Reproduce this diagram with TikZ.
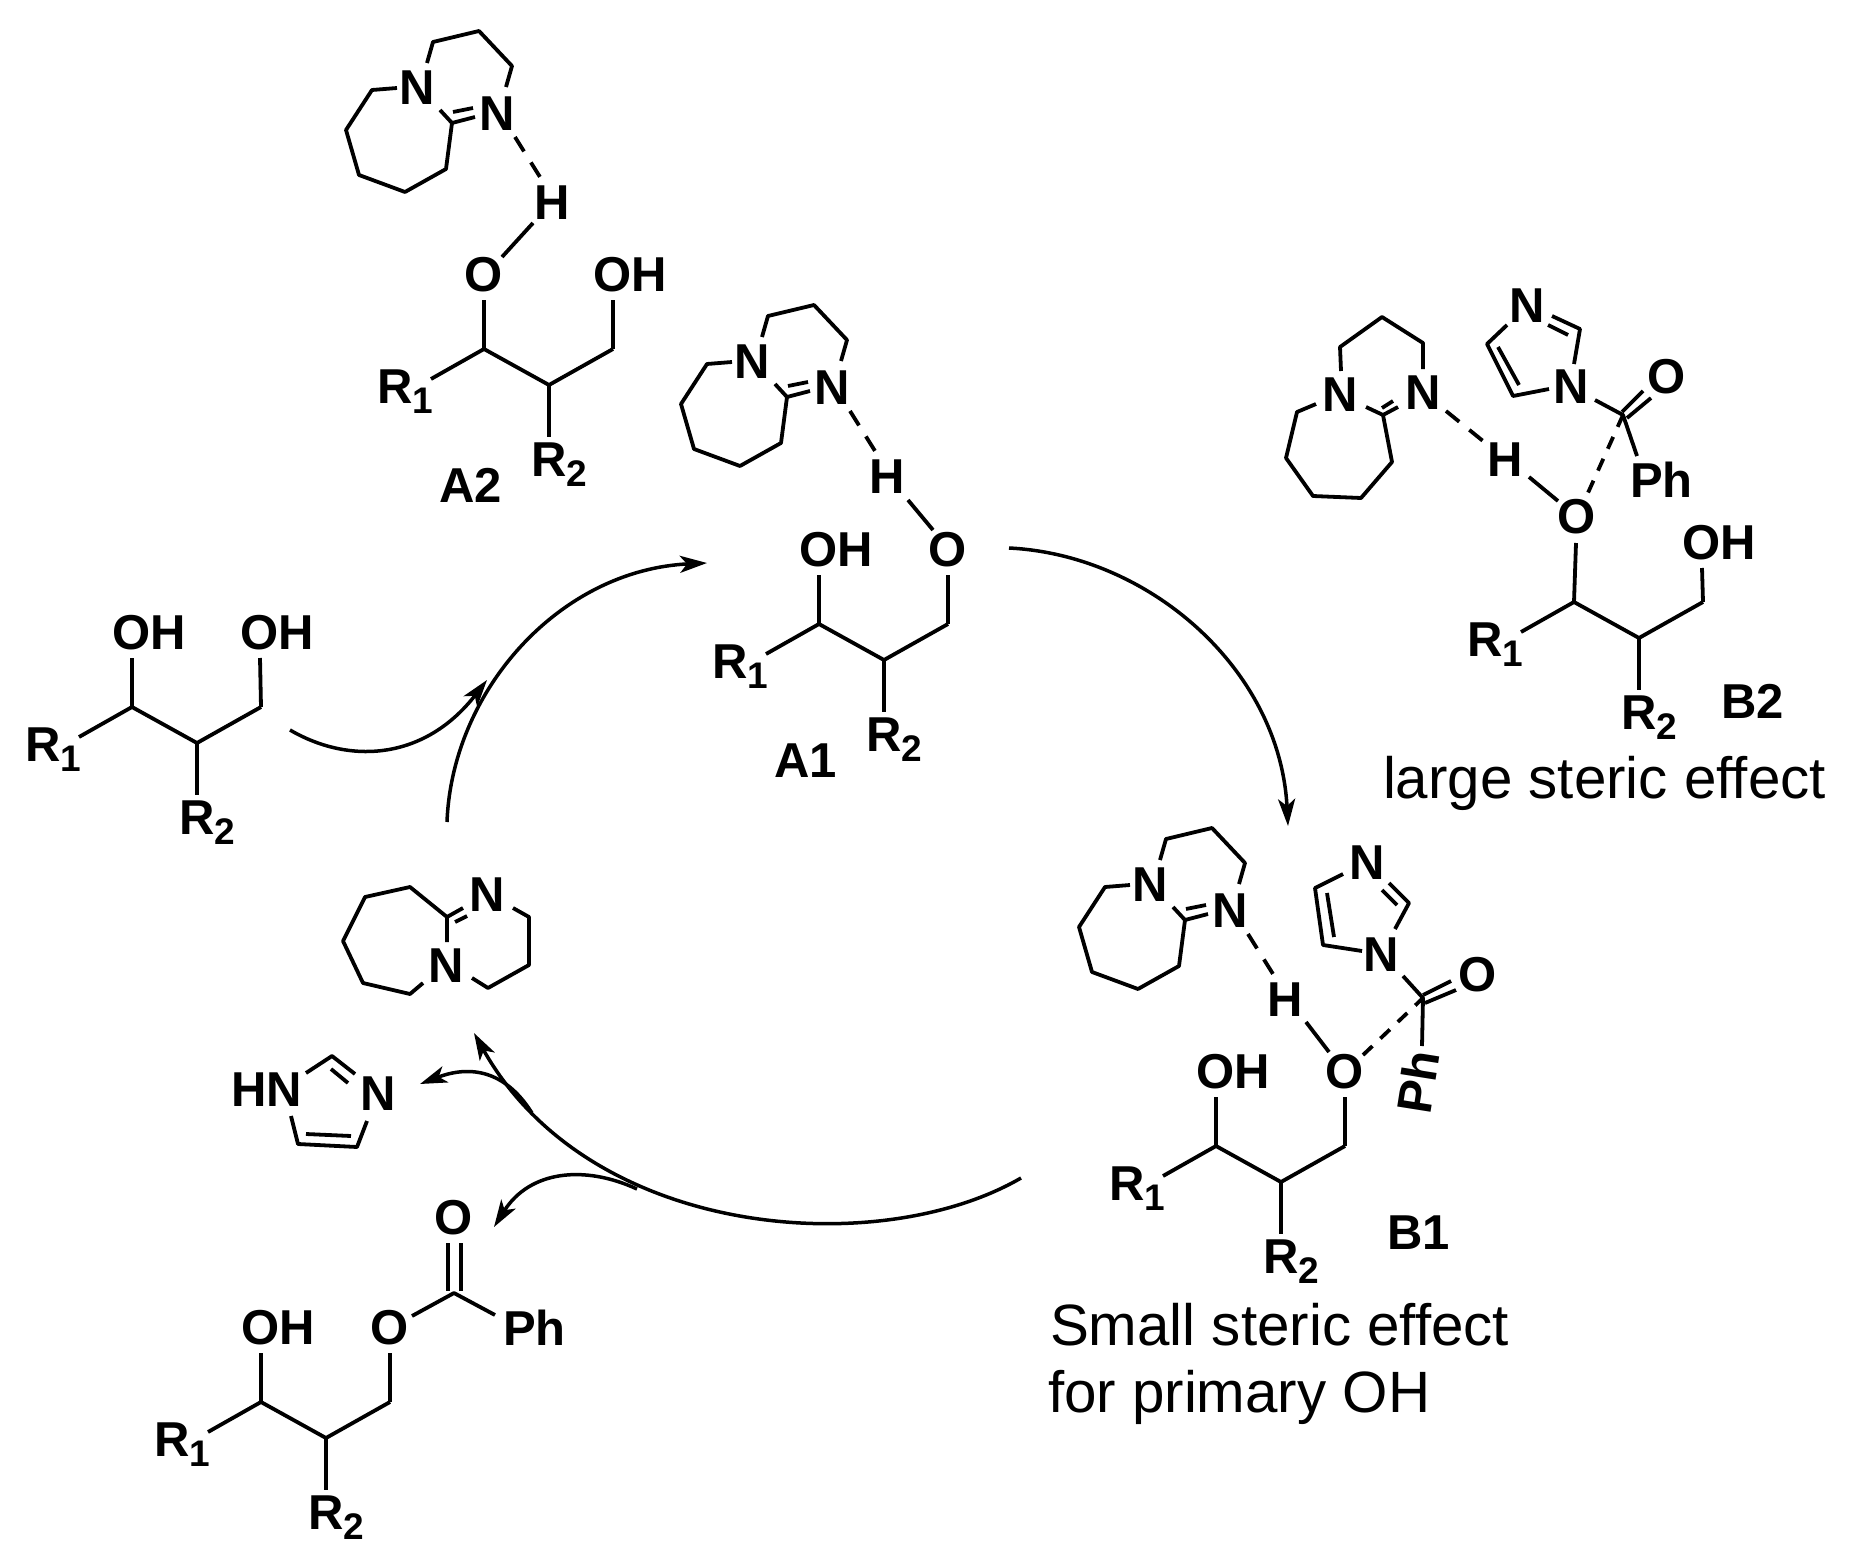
\documentclass[tikz,border=0pt]{standalone}
\usepackage{fontspec}
\setmainfont{Liberation Sans}
\usetikzlibrary{arrows.meta}
\tikzset{
  bond/.style={line width=3.8pt,line join=round,line cap=butt,black},
  hbond/.style={bond,dash pattern=on 17pt off 13pt},
  cobond/.style={bond,dash pattern=on 13pt off 11pt},
  atom/.style={font=\fontsize{49}{49}\selectfont\bfseries,inner sep=0pt,outer sep=0pt,black},
  tag/.style={font=\fontsize{49}{49}\selectfont\bfseries,inner sep=0pt,outer sep=0pt,anchor=base west,black},
  note/.style={font=\fontsize{58.3}{58.3}\selectfont,inner sep=0pt,outer sep=0pt,anchor=base west,black},
  curve/.style={line width=3.5pt,black,-{Stealth[length=27pt,width=17pt,inset=7pt]}},
}
\newcommand{\rsub}[2]{#1\raisebox{-10pt}{\fontsize{37}{37}\selectfont #2}}
% diol skeleton: name, x and y of first carbon
\newcommand{\diol}[3]{%
  \begin{scope}[shift={(#2,#3)}]
    \coordinate (#1c1) at (0,0);
    \coordinate (#1c2) at (65,36);
    \coordinate (#1c3) at (129,0);
    \coordinate (#1r1) at (-53,30);
    \coordinate (#1r2) at (65,88);
    \draw[bond] (#1r1)--(#1c1)--(#1c2)--(#1c3);
    \draw[bond] (#1c2)--(#1r2);
    \node[atom,anchor=base west] (#1R1) at (-107,54) {\rsub{R}{1}};
    \node[atom,anchor=base west] (#1R2) at (47,127) {\rsub{R}{2}};
  \end{scope}}
% OH group above a carbon: name, carbon, x, y
\newcommand{\ohup}[4]{%
  \node[atom,anchor=west] (#1) at (#3-20,#4-74) {OH};
  \coordinate (#1e) at (#3,#4-49);
  \draw[bond] (#1e)--(#2);}
% O above a carbon
\newcommand{\oup}[4]{%
  \node[atom] (#1) at (#3,#4-74) {O};
  \coordinate (#1e) at (#3,#4-49);
  \draw[bond] (#1e)--(#2);}
% DBU with H bond: name, shift x, shift y
\newcommand{\dbuH}[3]{%
  \begin{scope}[shift={(#2,#3)}]
    \node[atom] (#1n1) at (417,88) {N};
    \node[atom] (#1n2) at (497,114) {N};
    \node[atom] (#1h) at (552,203) {H};
    \draw[bond] (427,63)--(433,42)--(479,31)--(512,66)--(506,87);
    \draw[bond] (397,88)--(372,90)--(346,130)--(359,175)--(405,192)--(446,169)--(452,123)--(440,110);
    \draw[bond] (452,123)--(475,117);
    \draw[bond] (453,112)--(473,108);
    \draw[hbond] (515,137)--(540,177);
  \end{scope}}
\begin{document}
\begin{tikzpicture}[x=1pt,y=-1pt]
\useasboundingbox (0,0) rectangle (1857,1562);
\fill[white] (0,0) rectangle (1857,1562);

% ---- A2
\dbuH{aa}{0}{0}
\diol{a}{484}{349}
\oup{ao}{ac1}{484}{349}
\ohup{aoh}{ac3}{613}{349}
\coordinate (aoa) at (502,257);
\coordinate (aob) at (533,223);
\draw[bond] (aoa)--(aob);
\node[tag] (labA2) at (439,502) {A2};

% ---- A1
\dbuH{bb}{335}{274}
\diol{b}{819}{624}
\ohup{boh}{bc1}{819}{624}
\oup{bo}{bc3}{948}{624}
\coordinate (boa) at (908,500);
\coordinate (bob) at (933,530);
\draw[bond] (boa)--(bob);
\node[tag] (labA1) at (774,777) {A1};

% ---- B1
\dbuH{cc}{733}{797}
\diol{c}{1216}{1146}
\ohup{coh}{cc1}{1216}{1146}
\oup{co}{cc3}{1345}{1146}
\coordinate (coa) at (1306,1022);
\coordinate (cob) at (1329,1052);
\draw[bond] (coa)--(cob);
\node[atom] (cin1) at (1367,863) {N};
\node[atom] (cin2) at (1381,955) {N};
\draw[bond] (1343,874)--(1315,888)--(1323,945)--(1362,951);
\draw[bond] (1327,893)--(1334,937);
\draw[bond] (1389,883)--(1409,903)--(1395,929);
\draw[bond] (1382,890)--(1397,905);
\coordinate (ccc) at (1423,998);
\node[atom] (ccO) at (1478,975) {O};
\node[atom,rotate=81] (cPh) at (1418,1082) {Ph};
\draw[bond] (1403,976)--(ccc)--(1422,1046);
\draw[bond] (1423,995)--(1451,981);
\draw[bond] (1425,1003)--(1456,990);
\draw[cobond] (1363,1055)--(ccc);
\node[tag] (labB1) at (1387,1249) {B1};
\node[note] (small) at (1050,1345) {Small steric effect};
\node[note] (forp) at (1048,1412) {for primary OH};

% ---- B2
\node[atom] (dn1) at (1340,395) {N};
\node[atom] (dn2) at (1423,393) {N};
\node[atom] (dh) at (1505,460) {H};
\draw[bond] (1341,371)--(1340,347)--(1382,317)--(1423,343)--(1423,369);
\draw[bond] (1316,404)--(1297,412)--(1286,458)--(1313,496)--(1361,498)--(1392,462)--(1383,415)--(1366,407);
\draw[bond] (1383,415)--(1398,407);
\draw[bond] (1382,408)--(1393,401);
\draw[hbond] (1446,411)--(1483,441);
\diol{d}{1574}{602}
\node[atom] (do) at (1577,517) {O};
\coordinate (doe) at (1576,543);
\draw[bond] (doe)--(dc1);
\node[atom,anchor=west] (doh) at (1682,543) {OH};
\coordinate (dohe) at (1702,568);
\draw[bond] (dohe)--(dc3);
\draw[bond] (1529,477)--(1558,501);
\node[atom] (din1) at (1527,306) {N};
\node[atom] (din2) at (1571,387) {N};
\draw[bond] (1507,325)--(1487,344)--(1513,396)--(1549,389);
\draw[bond] (1498,347)--(1519,385);
\draw[bond] (1552,316)--(1580,329)--(1574,364);
\draw[bond] (1548,325)--(1568,335);
\coordinate (dcc) at (1623,415);
\node[atom] (dcO) at (1667,377) {O};
\node[atom,anchor=base west] (dPh) at (1630,497) {Ph};
\draw[bond] (1595,400)--(dcc)--(1637,456);
\draw[bond] (1622,412)--(1643,391);
\draw[bond] (1627,418)--(1651,398);
\draw[cobond] (dcc)--(1587,495);
\node[tag] (labB2) at (1721,718) {B2};
\node[note] (large) at (1383,798) {large steric effect};

% ---- free diol
\diol{e}{132}{707}
\ohup{eoh1}{ec1}{132}{707}
\ohup{eoh2}{ec3}{260}{707}

% ---- free DBU
\node[atom] (fn1) at (487,895) {N};
\node[atom] (fn2) at (446,966) {N};
\draw[bond] (447,942)--(447,917)--(410,887)--(365,897)--(343,941)--(363,983)--(410,994)--(423,983);
\draw[bond] (447,917)--(463,908);
\draw[bond] (455,922)--(467,916);
\draw[bond] (513,908)--(529,917)--(529,965)--(488,988)--(472,978);

% ---- imidazole
\node[atom,anchor=base west] (gHN) at (231,1106) {HN};
\node[atom,anchor=base west] (gN) at (360,1110) {N};
\draw[bond] (306,1073)--(332,1056)--(355,1074);
\draw[bond] (331,1069)--(348,1083);
\draw[bond] (367,1121)--(357,1147)--(298,1144)--(291,1116);
\draw[bond] (306,1134)--(351,1136);

% ---- ester product
\diol{h}{261}{1402}
\ohup{hoh}{hc1}{261}{1402}
\oup{ho}{hc3}{390}{1402}
\coordinate (hcc) at (454,1293);
\node[atom] (hcO) at (454,1218) {O};
\node[atom,anchor=base west] (hPh) at (503,1345) {Ph};
\draw[bond] (412,1316)--(hcc)--(495,1315);
\draw[bond] (448,1243)--(448,1291);
\draw[bond] (461,1243)--(461,1291);

% ---- cycle arrows
\coordinate (s1) at (447,822);  \coordinate (t1) at (707,563);
\coordinate (s2) at (290,730);  \coordinate (t2) at (487,680);
\coordinate (s3) at (1009,548); \coordinate (t3) at (1288,826);
\coordinate (s4) at (1021,1178);\coordinate (t4) at (474,1033);
\coordinate (s5) at (532,1113); \coordinate (t5) at (420,1084);
\coordinate (s6) at (637,1189); \coordinate (t6) at (494,1227);
\draw[curve] (s1) .. controls (452,690) and (560,570) .. (t1);
\draw[curve] (s2) .. controls (350,765) and (425,760) .. (t2);
\draw[curve] (s3) .. controls (1150,555) and (1280,670) .. (t3);
\draw[curve] (s4) .. controls (880,1260) and (590,1240) .. (t4);
\draw[curve] (s5) .. controls (505,1070) and (470,1065) .. (t5);
\draw[curve] (s6) .. controls (585,1165) and (530,1170) .. (t6);
\end{tikzpicture}
\end{document}
